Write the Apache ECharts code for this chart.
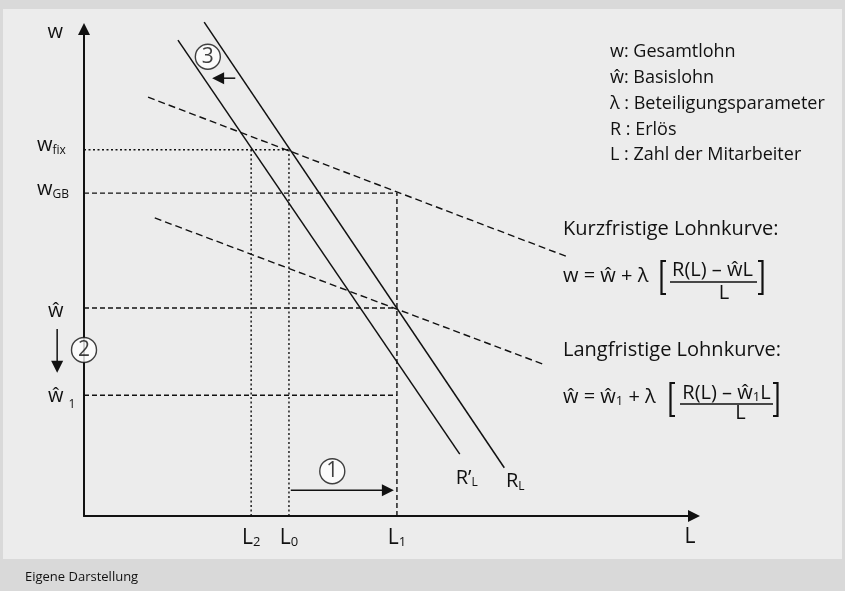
<!DOCTYPE html>
<html><head><meta charset="utf-8">
<script src="https://cdn.jsdelivr.net/npm/echarts@6/dist/echarts.min.js"></script>
<style>html,body{margin:0;padding:0;background:#d9d9d9}#c{width:845px;height:591px}</style>
</head><body><div id="c"></div>
<script>
// ---------- data (schematic units: L and w both on 0..100) ----------
const lTicks = [27.4, 33.6, 51.3];           // L2, L0, L1
const lTickMain = ['L', 'L', 'L'];
const lTickSub = ['2', '0', '1'];
const wTicks = [24.8, 42.7, 66.3, 75.2];     // ŵ1, ŵ, wGB, wfix
const wTickMain = ['ŵ', 'ŵ', 'w', 'w'];
const wTickSub = ['1', '', 'GB', 'fix'];
const curveR = [[19.7, 101.4], [68.9, 9.9]];          // R_L
const curveRPrime = [[15.4, 97.7], [61.6, 12.7]];     // R'_L
const shortRunCurve = [[10.5, 86.0], [79.3, 53.2]];   // kurzfristige Lohnkurve
const longRunCurve = [[11.6, 61.2], [75.2, 31.2]];    // langfristige Lohnkurve
const stepMarkers = [[40.7, 9.2, '1'], [0, 34.1, '2'], [20.3, 94.3, '3']];
const arrowRight = [[33.9, 5.3], [50.8, 5.3]];
const arrowDown = [[-4.4, 38.4], [-4.4, 29.4]];
const arrowLeft = [[24.8, 89.9], [21.0, 89.9]];
const legendLines = ['w: Gesamtlohn', 'ŵ: Basislohn', 'λ : Beteiligungsparameter', 'R : Erlös', 'L : Zahl der Mitarbeiter'];
const sourceNote = 'Eigene Darstellung';

// ---------- build ----------
const FF = '"Open Sans", "Noto Sans", sans-serif';
const INK = '#111';
const [L2, L0, L1] = lTicks;
const [wHat1, wHat, wGB, wFix] = wTicks;
const DOT = [2, 2.5], DASH = [5, 3], LDASH = [7, 4];

function seg(pts, dash, w) {
  return { type: 'line', data: pts, symbol: 'none', clip: false, silent: true, z: 3,
    lineStyle: { color: INK, width: w || 1.4, type: dash || 'solid' } };
}
function nearest(arr, v) { let b = 0; arr.forEach((a, i) => { if (Math.abs(a - v) < Math.abs(arr[b] - v)) b = i; }); return b; }
function rLine(pts, main, pos) {
  return { type: 'line', clip: false, silent: true, z: 3, symbol: 'none',
    lineStyle: { color: INK, width: 1.5 },
    data: [pts[0], { value: pts[1], symbol: 'circle', symbolSize: 0.01,
      label: { show: true, position: pos, align: 'center', verticalAlign: 'middle',
        formatter: '{m|' + main + '}{s|L}',
        rich: { m: { fontSize: 20, fontFamily: FF, color: INK },
                s: { fontSize: 12, fontFamily: FF, color: INK, padding: [9, 0, 0, 0] } } } }] };
}

const legendEls = legendLines.map((t, i) => ({
  type: 'text', x: 610, y: 52 + i * 25.8, z: 10,
  style: { text: t, fill: INK, font: '18px ' + FF, verticalAlign: 'middle', textVerticalAlign: 'middle' }
}));
function txt(x, y, text, size, align, rich) {
  return { type: 'text', x, y, z: 10,
    style: { text, fill: INK, font: size + 'px ' + FF, align: align || 'left', textAlign: align || 'left',
      verticalAlign: 'middle', textVerticalAlign: 'middle', rich } };
}
function bracket(x0, x1, y0, y1) {
  return { type: 'polyline', z: 10, shape: { points: [[x1, y0], [x0, y0], [x0, y1], [x1, y1]] },
    style: { stroke: INK, lineWidth: 2.2, fill: null } };
}
function bar(x0, x1, y) {
  return { type: 'line', z: 10, shape: { x1: x0, y1: y, x2: x1, y2: y }, style: { stroke: INK, lineWidth: 1.3 } };
}
const frm = { m: { fontSize: 20, fontFamily: FF, color: INK }, s: { fontSize: 13, fontFamily: FF, color: INK, padding: [8, 0, 0, 0] } };

const arrows = [arrowRight, arrowDown, arrowLeft].map(a => [a[0][0], a[0][1], a[1][0], a[1][1]]);

const option = {
  backgroundColor: '#d9d9d9',
  animation: false,
  textStyle: { fontFamily: FF, color: INK },
  grid: { left: 84, top: 29, right: 151, bottom: 75 },
  xAxis: {
    type: 'value', min: 0, max: 100, splitLine: { show: false }, axisTick: { show: false },
    axisLine: { lineStyle: { color: INK, width: 2 }, symbol: ['none', 'triangle'], symbolSize: [12, 12] },
    name: '{n|L}', nameLocation: 'end', nameGap: -4,
    nameTextStyle: { align: 'center', verticalAlign: 'middle',
      rich: { n: { fontSize: 21, fontFamily: FF, color: INK, padding: [42, 0, 0, 0] } } },
    axisLabel: {
      customValues: lTicks, margin: 22, verticalAlign: 'middle', color: INK,
      formatter: v => { const i = nearest(lTicks, v); return '{m|' + lTickMain[i] + '}{s|' + lTickSub[i] + '}'; },
      rich: { m: { fontSize: 21, fontFamily: FF, color: INK }, s: { fontSize: 13, fontFamily: FF, color: INK, padding: [8, 0, 0, 0] } }
    }
  },
  yAxis: {
    type: 'value', min: 0, max: 100, splitLine: { show: false }, axisTick: { show: false },
    axisLine: { lineStyle: { color: INK, width: 2 }, symbol: ['none', 'triangle'], symbolSize: [12, 12] },
    name: 'w', nameLocation: 'end', nameGap: -3,
    nameTextStyle: { fontSize: 20, color: INK, align: 'right', verticalAlign: 'middle', padding: [0, 21, 0, 0] },
    axisLabel: {
      customValues: wTicks, margin: 47, align: 'left', color: INK,
      formatter: v => {
        const i = nearest(wTicks, v);
        if (wTickMain[i] === 'ŵ') return wTickSub[i] ? '{g|ŵ}{t|' + wTickSub[i] + '}' : '{h|ŵ}';
        return '{m|' + wTickMain[i] + '}{s|' + wTickSub[i] + '}';
      },
      rich: {
        m: { fontSize: 20, fontFamily: FF, color: INK, padding: [0, 0, 8, 0] },
        s: { fontSize: 12, fontFamily: FF, color: INK, padding: [2, 0, 0, 0] },
        h: { fontSize: 20, fontFamily: FF, color: INK, padding: [6, 0, 0, 11] },
        g: { fontSize: 20, fontFamily: FF, color: INK, padding: [3, 0, 0, 11] },
        t: { fontSize: 12, fontFamily: FF, color: INK, padding: [18, 0, 0, 5] }
      }
    }
  },
  graphic: [
    { type: 'rect', z: -100, shape: { x: 3, y: 9, width: 839, height: 550 }, style: { fill: '#ececec' } },
    ...legendEls,
    txt(563, 229, 'Kurzfristige Lohnkurve:', 20),
    txt(563, 276, 'w = ŵ + λ', 20),
    bracket(661.5, 666, 261, 294),
    txt(712.5, 270, 'R(L) – ŵL', 20, 'center'),
    bar(670, 757, 282),
    txt(724, 293, 'L', 20, 'center'),
    bracket(762.5, 758, 261, 294),
    txt(563, 350, 'Langfristige Lohnkurve:', 20),
    txt(563, 397, '{m|ŵ = ŵ}{s|1}{m| + λ}', 20, 'left', frm),
    bracket(670.5, 675, 383, 416),
    txt(726.5, 393, '{m|R(L) – ŵ}{s|1}{m|L}', 20, 'center', frm),
    bar(680, 773, 404),
    txt(740.5, 413, 'L', 20, 'center'),
    bracket(777.5, 773, 383, 416),
    txt(25, 577, sourceNote, 13)
  ],
  series: [
    seg([[0, wFix], [L0, wFix]], DOT),
    seg([[L2, 0], [L2, wFix]], DOT),
    seg([[L0, 0], [L0, wFix]], DOT),
    seg([[0, wGB], [L1, wGB]], DASH),
    seg([[L1, 0], [L1, wGB]], DASH),
    seg([[0, wHat], [L1, wHat]], DASH),
    seg([[0, wHat1], [L1, wHat1]], DASH),
    seg(shortRunCurve, LDASH),
    seg(longRunCurve, LDASH),
    rLine(curveRPrime, 'R’', [7, 24]),
    rLine(curveR, 'R', [11, 14]),
    { type: 'custom', silent: true, z: 4, clip: false, data: arrows,
      encode: { x: [0, 2], y: [1, 3] },
      renderItem: (params, api) => {
        const p0 = api.coord([api.value(0), api.value(1)]);
        const p1 = api.coord([api.value(2), api.value(3)]);
        const dx = p1[0] - p0[0], dy = p1[1] - p0[1], len = Math.hypot(dx, dy);
        const ux = dx / len, uy = dy / len, hl = 12, hw = 6;
        const bx = p1[0] - ux * hl, by = p1[1] - uy * hl;
        return { type: 'group', children: [
          { type: 'line', shape: { x1: p0[0], y1: p0[1], x2: bx + ux, y2: by + uy }, style: { stroke: INK, lineWidth: 1.5 } },
          { type: 'polygon', shape: { points: [[p1[0], p1[1]], [bx - uy * hw, by + ux * hw], [bx + uy * hw, by - ux * hw]] }, style: { fill: INK } }
        ] };
      } },
    { type: 'scatter', clip: false, silent: true, z: 6, symbol: 'circle', symbolSize: 25,
      data: stepMarkers, encode: { x: 0, y: 1 },
      itemStyle: { color: '#fff', borderColor: INK, borderWidth: 1.4 },
      label: { show: true, position: 'inside', formatter: p => p.value[2], fontSize: 21, fontFamily: FF, color: INK } }
  ]
};
const chart = echarts.init(document.getElementById('c'));
chart.setOption(option);
</script></body></html>
